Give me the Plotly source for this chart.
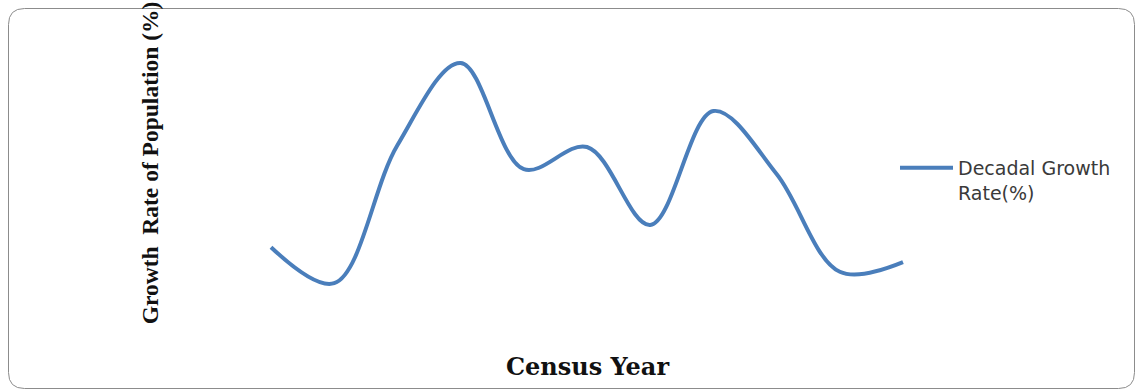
import plotly.graph_objects as go

# ---- data (no scale is shown on the reference) ----
census_year = [1901, 1911, 1921, 1931, 1941, 1951, 1961, 1971, 1981, 1991, 2001]
growth_rate = [3.8, -2.2, 20.8, 34.5, 16.8, 20.5, 7.5, 26.5, 16.0, -0.3, 1.3]
series_name = "Decadal Growth<br>Rate(%)"
x_title = "Census Year"
y_title = "Growth  Rate of Population (%)"

W, H = 1137, 392
L, R, T, B = 230, 192, 10, 76
pw, ph = W - L - R, H - T - B

def px(x):
    return (x - L) / pw

def py(y):
    return (H - B - y) / ph

# rounded border around the whole chart
x0, x1, y0, y1, r = 8.5, 1134.5, 8.5, 388.5, 16
path = (
    f"M {px(x0 + r)},{py(y0)} L {px(x1 - r)},{py(y0)} "
    f"Q {px(x1)},{py(y0)} {px(x1)},{py(y0 + r)} L {px(x1)},{py(y1 - r)} "
    f"Q {px(x1)},{py(y1)} {px(x1 - r)},{py(y1)} L {px(x0 + r)},{py(y1)} "
    f"Q {px(x0)},{py(y1)} {px(x0)},{py(y1 - r)} L {px(x0)},{py(y0 + r)} "
    f"Q {px(x0)},{py(y0)} {px(x0 + r)},{py(y0)} Z"
)

fig = go.Figure()
fig.add_trace(go.Scatter(
    x=census_year, y=growth_rate, mode="lines", name=series_name,
    line=dict(color="#4a7ebb", width=4, shape="spline", smoothing=1.0),
))

# x: 1901 -> 271px, 2001 -> 903px
xs = 632 / 100
xr0 = 1901 - (271 - L) / xs
xr1 = xr0 + pw / xs
# y: value v sits at 330 - (v + 10) * 6 px
yr_top = (330 - T) / 6 - 10
yr_bot = (330 - (H - B)) / 6 - 10

fig.update_layout(
    width=W, height=H,
    margin=dict(l=L, r=R, t=T, b=B, autoexpand=False),
    paper_bgcolor="white", plot_bgcolor="white",
    showlegend=True,
    legend=dict(
        x=px(895), y=py(149), xanchor="left", yanchor="top", valign="top",
        font=dict(family="DejaVu Sans", size=19, color="#3a3a3a"),
        bgcolor="rgba(0,0,0,0)", itemwidth=53,
    ),
    xaxis=dict(
        range=[xr0, xr1], showticklabels=False, ticks="", showgrid=False,
        zeroline=False, showline=False,
        title=dict(text=x_title, standoff=42,
                   font=dict(family="DejaVu Serif", size=24, color="#111111", weight="bold")),
        automargin=False,
    ),
    yaxis=dict(
        range=[yr_bot, yr_top], showticklabels=False, ticks="", showgrid=False,
        zeroline=False, showline=False,
        title=dict(text=y_title, standoff=63,
                   font=dict(family="Liberation Serif", size=23.5, color="#111111", weight="bold")),
        automargin=False,
    ),
    shapes=[dict(type="path", xref="paper", yref="paper", path=path,
                 line=dict(color="#8c8c8c", width=1), layer="below")],
)

fig.write_html("out.html")
